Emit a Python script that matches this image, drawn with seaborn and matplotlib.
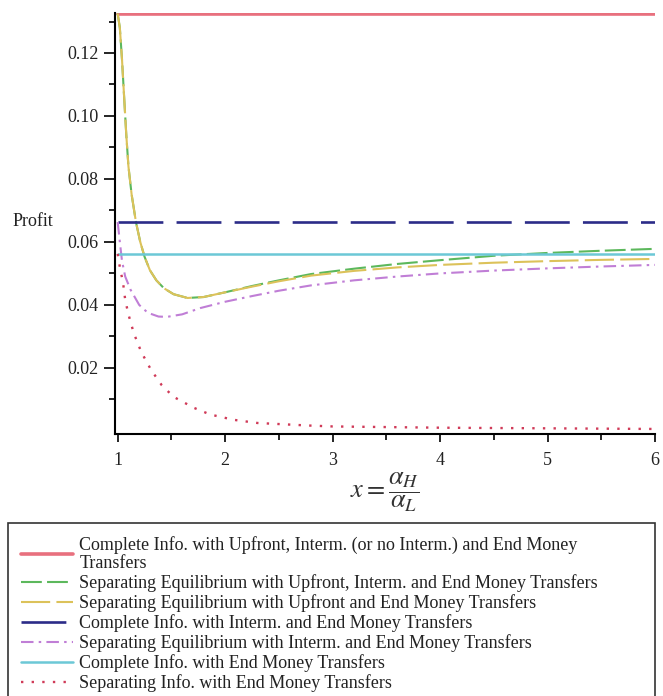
import numpy as np
import pandas as pd
import matplotlib
matplotlib.use("Agg")
import matplotlib.pyplot as plt
import seaborn as sns

# ---------------- data ----------------
x_const = [1.0, 6.0]
complete_upfront = [0.1325, 0.1325]
complete_interm_end = [0.0663, 0.0663]
complete_end = [0.0562, 0.0562]

x_sep = [1.00, 1.02, 1.04, 1.06, 1.08, 1.10, 1.13, 1.17, 1.21, 1.25, 1.30, 1.36,
         1.43, 1.52, 1.65, 1.80, 2.00, 2.25, 2.50, 2.80, 3.20, 3.60, 4.00, 4.50,
         5.00, 5.50, 6.00]
sep_upfront_interm_end = [0.1325, 0.128, 0.118, 0.106, 0.094, 0.084, 0.075, 0.0663,
                          0.0600, 0.0553, 0.0510, 0.0478, 0.0453, 0.0434, 0.0422,
                          0.0425, 0.0440, 0.0460, 0.0478, 0.0498, 0.0515, 0.0530,
                          0.0542, 0.0556, 0.0565, 0.0572, 0.0578]
sep_upfront_end = [0.1325, 0.128, 0.118, 0.106, 0.094, 0.084, 0.075, 0.0663,
                   0.0600, 0.0553, 0.0510, 0.0478, 0.0453, 0.0434, 0.0422,
                   0.0425, 0.0440, 0.0458, 0.0475, 0.0493, 0.0508, 0.0519,
                   0.0527, 0.0534, 0.0539, 0.0543, 0.0546]

x_int = [1.00, 1.02, 1.04, 1.07, 1.12, 1.20, 1.28, 1.38, 1.46, 1.60, 1.77, 2.00,
         2.25, 2.50, 2.80, 3.20, 3.60, 4.00, 4.50, 5.00, 5.50, 6.00]
sep_interm_end = [0.0663, 0.060, 0.054, 0.049, 0.0448, 0.0400, 0.0375, 0.0363,
                  0.0362, 0.0370, 0.0390, 0.0410, 0.0428, 0.0445, 0.0462, 0.0478,
                  0.0490, 0.0500, 0.0509, 0.0516, 0.0522, 0.0527]

x_dot = [1.00, 1.02, 1.05, 1.07, 1.10, 1.15, 1.22, 1.31, 1.41, 1.52, 1.71, 1.86,
         2.08, 2.30, 2.77, 3.00, 4.00, 5.00, 6.00]
sep_info_end = [0.0562, 0.052, 0.047, 0.0416, 0.037, 0.031, 0.025, 0.0194, 0.0145,
                0.0108, 0.0073, 0.0052, 0.0035, 0.0025, 0.0017, 0.0014, 0.0010,
                0.0008, 0.0006]

labels = [
    "Complete Info. with Upfront, Interm. (or no Interm.) and End Money\nTransfers",
    "Separating Equilibrium with Upfront, Interm. and End Money Transfers",
    "Separating Equilibrium with Upfront and End Money Transfers",
    "Complete Info. with Interm. and End Money Transfers",
    "Separating Equilibrium with Interm. and End Money Transfers",
    "Complete Info. with End Money Transfers",
    "Separating Info. with End Money Transfers",
]

# ---------------- style ----------------
sns.set_style("ticks")
plt.rcParams["font.family"] = ["Liberation Serif", "DejaVu Serif"]
plt.rcParams["mathtext.fontset"] = "stix"

fig = plt.figure(figsize=(6.63, 6.96), dpi=100)
ax = fig.add_axes([115 / 663, 1 - 434 / 696, 540 / 663, 421 / 696])

series = [
    (x_const, complete_upfront, "#e8707e", "-", 2.6),
    (x_sep, sep_upfront_interm_end, "#5cb85c", (0, (10, 2.5)), 1.5),
    (x_sep, sep_upfront_end, "#dcc25a", (0, (14, 3)), 1.5),
    (x_const, complete_interm_end, "#2c2c88", (0, (17, 5)), 1.9),
    (x_int, sep_interm_end, "#c07ed6", (0, (6, 2.5, 1.2, 2.5)), 1.5),
    (x_const, complete_end, "#6cc8d6", "-", 1.8),
    (x_dot, sep_info_end, "#d03a58", (0, (1, 3.5)), 1.7),
]

handles = []
for (xs, ys, col, ls, lw), lab in zip(series, labels):
    df = pd.DataFrame({"x": xs, "y": ys})
    sns.lineplot(data=df, x="x", y="y", ax=ax, color=col, linestyle=ls,
                 linewidth=lw, estimator=None, sort=True)
    handles.append(ax.get_lines()[-1])

ax.set_xlim(0.975, 6.0)
ax.set_ylim(-0.001, 0.1327)
ax.set_xticks([1, 2, 3, 4, 5, 6])
ax.set_xticks(np.arange(1.5, 6, 1.0), minor=True)
ax.set_yticks([0.02, 0.04, 0.06, 0.08, 0.10, 0.12])
ax.set_yticks([0.01, 0.03, 0.05, 0.07, 0.09, 0.11, 0.13], minor=True)
ax.set_yticklabels(["0.02", "0.04", "0.06", "0.08", "0.10", "0.12"])
ax.tick_params(axis="both", which="major", labelsize=13, width=1.2, color="black",
               labelcolor="#222222")
ax.tick_params(axis="y", which="major", length=8, pad=4)
ax.tick_params(axis="x", which="major", length=6, pad=7)
ax.tick_params(axis="both", which="minor", length=4, width=1.2, color="black")
for s in ["top", "right"]:
    ax.spines[s].set_visible(False)
for s in ["left", "bottom"]:
    ax.spines[s].set_color("black")
    ax.spines[s].set_linewidth(1.5)

ax.set_ylabel("Profit", rotation=0, fontsize=13, ha="center", va="center",
              color="#222222")
ax.yaxis.set_label_coords(-0.152, 0.504)
ax.set_xlabel(r"$x=\dfrac{\alpha_H}{\alpha_L}$", fontsize=19, color="#333333")
ax.xaxis.set_label_coords(0.5, -0.087)

leg = fig.legend(handles, labels, loc="upper left",
                 bbox_to_anchor=(8 / 663, 0.0, 647 / 663, 1 - 523 / 696),
                 mode="expand", borderaxespad=0, frameon=True, fancybox=False,
                 edgecolor="black", fontsize=13, handlelength=2.9,
                 handletextpad=0.35, labelspacing=0.12, borderpad=0.7)
leg.get_frame().set_linewidth(1.2)
for t in leg.get_texts():
    t.set_color("#222222")
    t.set_linespacing(1.12)

fig.savefig("out.png", dpi=100, facecolor="white")
